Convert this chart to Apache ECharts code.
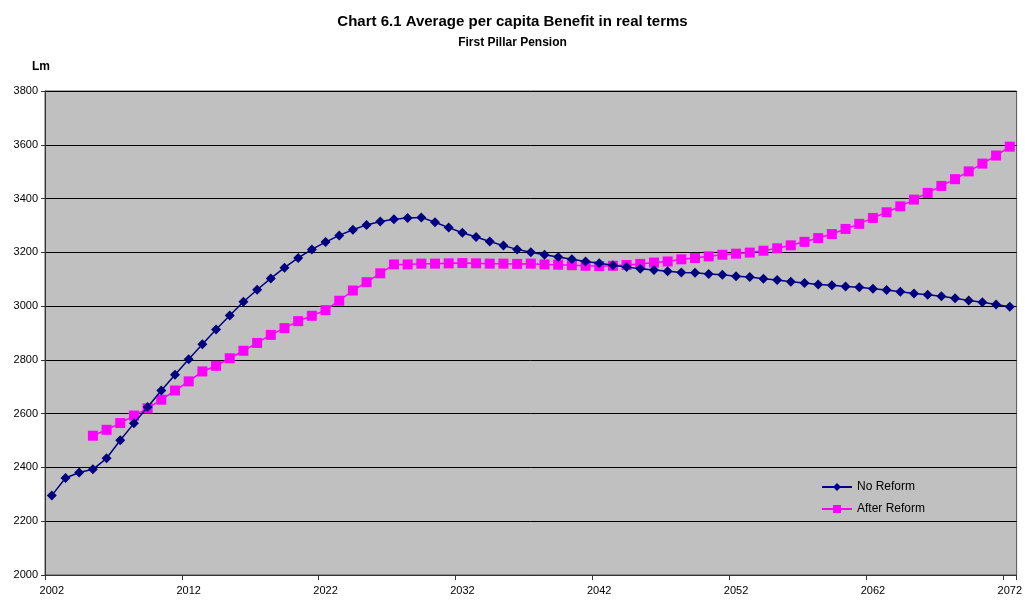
<!DOCTYPE html>
<html>
<head>
<meta charset="utf-8">
<script src="https://cdn.jsdelivr.net/npm/echarts@6/dist/echarts.min.js"></script>
<style>
  html, body { margin: 0; padding: 0; background: #ffffff; }
  #chart { width: 1025px; height: 601px; }
</style>
</head>
<body>
<div id="chart"></div>
<script>
// Years 2002..2072 on the category axis
const years = [];
for (let y = 2002; y <= 2072; y++) years.push(String(y));

// Average per capita benefit, no reform (Lm)
const noReform = [
  2296, 2361, 2381, 2393, 2434, 2501, 2564, 2625, 2686, 2745,
  2802, 2858, 2913, 2965, 3016, 3061, 3103, 3143, 3179, 3211,
  3238, 3263, 3284, 3302, 3315, 3323, 3328, 3330, 3312, 3292,
  3273, 3257, 3240, 3225, 3211, 3200, 3191, 3183, 3174, 3166,
  3159, 3152, 3145, 3139, 3134, 3130, 3125, 3124, 3119, 3117,
  3111, 3108, 3102, 3097, 3091, 3086, 3080, 3078, 3073, 3070,
  3065, 3060, 3053, 3047, 3042, 3037, 3029, 3021, 3014, 3006,
  2998
];

// Average per capita benefit after reform (Lm), series starts in 2005
const afterReform = [
  null, null, null, 2518, 2540, 2565, 2593, 2620, 2652, 2686,
  2720, 2757, 2778, 2806, 2834, 2863, 2893, 2918, 2944, 2964,
  2985, 3020, 3058, 3089, 3122, 3155, 3155, 3158, 3158, 3159,
  3160, 3159, 3158, 3158, 3157, 3158, 3155, 3154, 3152, 3150,
  3149, 3150, 3153, 3157, 3162, 3166, 3174, 3179, 3185, 3191,
  3195, 3199, 3206, 3215, 3226, 3239, 3253, 3268, 3287, 3306,
  3328, 3349, 3371, 3396, 3421, 3447, 3472, 3501, 3530, 3560,
  3593
];

const FONT = '"Liberation Sans", Arial, sans-serif';

const chart = echarts.init(document.getElementById('chart'), null, { renderer: 'canvas' });

chart.setOption({
  backgroundColor: '#ffffff',
  animation: false,
  title: [
    {
      text: 'Chart 6.1 Average per capita Benefit in real terms',
      left: 'center', top: 9,
      textStyle: { fontFamily: FONT, fontSize: 15, fontWeight: 'bold', color: '#000' }
    },
    {
      text: 'First Pillar Pension',
      left: 'center', top: 32,
      textStyle: { fontFamily: FONT, fontSize: 12, fontWeight: 'bold', color: '#000' }
    },
    {
      text: 'Lm',
      left: 27, top: 56,
      textStyle: { fontFamily: FONT, fontSize: 12, fontWeight: 'bold', color: '#000' }
    }
  ],
  grid: {
    left: 45, right: 7, top: 91, bottom: 26,
    show: true,
    backgroundColor: '#c0c0c0',
    borderColor: '#555555',
    borderWidth: 1
  },
  legend: {
    orient: 'vertical',
    left: 816, top: 476,
    itemWidth: 30, itemHeight: 10,
    itemGap: 10,
    textStyle: { fontFamily: FONT, fontSize: 12, color: '#000' },
    data: ['No Reform', 'After Reform']
  },
  xAxis: {
    type: 'category',
    data: years,
    boundaryGap: true,
    axisLine: { lineStyle: { color: '#333', width: 1 } },
    axisTick: { show: true, interval: 9, length: 5, lineStyle: { color: '#333' } },
    axisLabel: { interval: 9, fontFamily: FONT, fontSize: 11, color: '#000', margin: 10 },
    splitLine: { show: false }
  },
  yAxis: {
    type: 'value',
    min: 2000, max: 3800, interval: 200,
    axisLine: { show: true, lineStyle: { color: '#333', width: 1 } },
    axisTick: { show: true, length: 4, lineStyle: { color: '#333' } },
    axisLabel: {
      fontFamily: FONT, fontSize: 11, color: '#000', margin: 7,
      formatter: (v) => String(v)
    },
    splitLine: { show: true, lineStyle: { color: '#000', width: 1 } }
  },
  series: [
    {
      name: 'No Reform',
      type: 'line',
      data: noReform,
      symbol: 'diamond',
      symbolSize: 10,
      showAllSymbol: true,
      lineStyle: { color: '#000080', width: 1.5 },
      itemStyle: { color: '#000080' },
      z: 3
    },
    {
      name: 'After Reform',
      type: 'line',
      data: afterReform,
      symbol: 'rect',
      symbolSize: 10,
      showAllSymbol: true,
      lineStyle: { color: '#ff00ff', width: 1.5 },
      itemStyle: { color: '#ff00ff' },
      z: 2
    }
  ]
});
</script>
</body>
</html>
